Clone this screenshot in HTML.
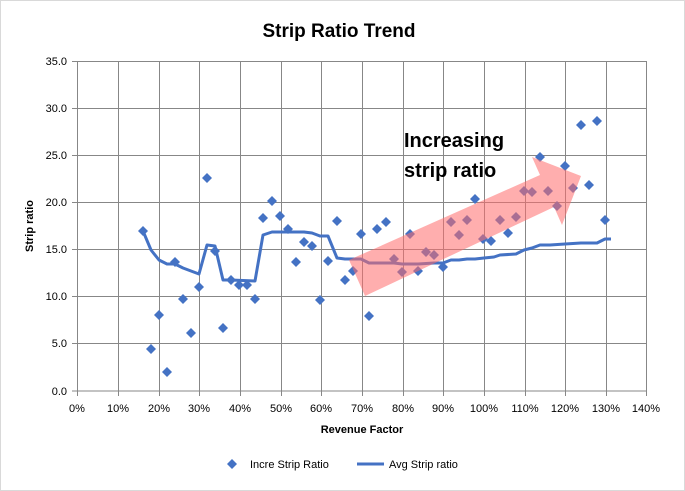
<!DOCTYPE html>
<html><head><style>body{margin:0;background:#fff}svg{display:block}</style></head><body>
<svg width="685" height="491" viewBox="0 0 685 491" xmlns="http://www.w3.org/2000/svg" font-family="Liberation Sans, sans-serif">
<defs><path id="d" d="M0,-5 l5,5 l-5,5 l-5,-5z" fill="#4472C4"/></defs>
<rect x="0.5" y="0.5" width="684" height="490" fill="#fff" stroke="#d9d9d9"/>
<text x="339" y="37" text-anchor="middle" font-size="19" font-weight="bold" fill="#000">Strip Ratio Trend</text>
<g stroke="#878787" stroke-width="1">
<line x1="77" y1="61.5" x2="646.5" y2="61.5"/><line x1="77" y1="108.5" x2="646.5" y2="108.5"/><line x1="77" y1="155.5" x2="646.5" y2="155.5"/><line x1="77" y1="202.5" x2="646.5" y2="202.5"/><line x1="77" y1="249.5" x2="646.5" y2="249.5"/><line x1="77" y1="296.5" x2="646.5" y2="296.5"/><line x1="77" y1="343.5" x2="646.5" y2="343.5"/><line x1="72" y1="391" x2="646.5" y2="391"/>
<line x1="77.5" y1="61" x2="77.5" y2="396"/><line x1="118.5" y1="61" x2="118.5" y2="396"/><line x1="159.5" y1="61" x2="159.5" y2="396"/><line x1="199.5" y1="61" x2="199.5" y2="396"/><line x1="240.5" y1="61" x2="240.5" y2="396"/><line x1="281.5" y1="61" x2="281.5" y2="396"/><line x1="321.5" y1="61" x2="321.5" y2="396"/><line x1="362.5" y1="61" x2="362.5" y2="396"/><line x1="403.5" y1="61" x2="403.5" y2="396"/><line x1="443.5" y1="61" x2="443.5" y2="396"/><line x1="484.5" y1="61" x2="484.5" y2="396"/><line x1="525.5" y1="61" x2="525.5" y2="396"/><line x1="565.5" y1="61" x2="565.5" y2="396"/><line x1="606.5" y1="61" x2="606.5" y2="396"/><line x1="646.5" y1="61" x2="646.5" y2="396"/>
<line x1="72" y1="61.5" x2="77" y2="61.5"/><line x1="72" y1="108.5" x2="77" y2="108.5"/><line x1="72" y1="155.5" x2="77" y2="155.5"/><line x1="72" y1="202.5" x2="77" y2="202.5"/><line x1="72" y1="249.5" x2="77" y2="249.5"/><line x1="72" y1="296.5" x2="77" y2="296.5"/><line x1="72" y1="343.5" x2="77" y2="343.5"/>
</g>
<g font-size="11" fill="#000" text-anchor="end">
<text x="67" y="65">35.0</text><text x="67" y="112">30.0</text><text x="67" y="159">25.0</text><text x="67" y="206">20.0</text><text x="67" y="253">15.0</text><text x="67" y="300">10.0</text><text x="67" y="347">5.0</text><text x="67" y="395">0.0</text>
</g>
<g font-size="11" fill="#000" text-anchor="middle">
<text x="77" y="412">0%</text><text x="118" y="412">10%</text><text x="159" y="412">20%</text><text x="199" y="412">30%</text><text x="240" y="412">40%</text><text x="281" y="412">50%</text><text x="321" y="412">60%</text><text x="362" y="412">70%</text><text x="403" y="412">80%</text><text x="443" y="412">90%</text><text x="484" y="412">100%</text><text x="525" y="412">110%</text><text x="565" y="412">120%</text><text x="606" y="412">130%</text><text x="646" y="412">140%</text>
</g>
<text x="362" y="433" text-anchor="middle" font-size="11" font-weight="bold">Revenue Factor</text>
<text transform="translate(33,226) rotate(-90)" text-anchor="middle" font-size="11" font-weight="bold">Strip ratio</text>
<polyline fill="none" stroke="#4472C4" stroke-width="3" stroke-linejoin="round" points="143,231 151,250 159,260 167,264 175,264 183,268 191,271 199,274 207,245 215,246 223,280 231,280 255,281 263,235 272,232 280,232 304,232 312,233 320,236 328,236 337,258 345,259 353,259 361,259 369,263 377,263 394,263 402,264 410,264 418,264 434,263 443,263 451,260 459,260 467,259 475,259 484,258 494,257 500,255 516,254 524,250 532,248 540,245 550,245 565,244 581,243 597,243 605,239 611,239"/>
<g>
<use href="#d" x="143" y="231"/><use href="#d" x="151" y="349"/><use href="#d" x="159" y="315"/><use href="#d" x="167" y="372"/><use href="#d" x="175" y="262"/><use href="#d" x="183" y="299"/><use href="#d" x="191" y="333"/><use href="#d" x="199" y="287"/><use href="#d" x="207" y="178"/><use href="#d" x="215" y="251"/><use href="#d" x="223" y="328"/><use href="#d" x="231" y="280"/><use href="#d" x="239" y="285"/><use href="#d" x="247" y="285"/><use href="#d" x="255" y="299"/><use href="#d" x="263" y="218"/><use href="#d" x="272" y="201"/><use href="#d" x="280" y="216"/><use href="#d" x="288" y="229"/><use href="#d" x="296" y="262"/><use href="#d" x="304" y="242"/><use href="#d" x="312" y="246"/><use href="#d" x="320" y="300"/><use href="#d" x="328" y="261"/><use href="#d" x="337" y="221"/><use href="#d" x="345" y="280"/><use href="#d" x="353" y="271"/><use href="#d" x="361" y="234"/><use href="#d" x="369" y="316"/><use href="#d" x="377" y="229"/><use href="#d" x="386" y="222"/><use href="#d" x="394" y="259"/><use href="#d" x="402" y="272"/><use href="#d" x="410" y="234"/><use href="#d" x="418" y="271"/><use href="#d" x="426" y="252"/><use href="#d" x="434" y="255"/><use href="#d" x="443" y="267"/><use href="#d" x="451" y="222"/><use href="#d" x="459" y="235"/><use href="#d" x="467" y="220"/><use href="#d" x="475" y="199"/><use href="#d" x="483" y="239"/><use href="#d" x="491" y="241"/><use href="#d" x="500" y="220"/><use href="#d" x="508" y="233"/><use href="#d" x="516" y="217"/><use href="#d" x="524" y="191"/><use href="#d" x="532" y="192"/><use href="#d" x="540" y="157"/><use href="#d" x="548" y="191"/><use href="#d" x="557" y="206"/><use href="#d" x="565" y="166"/><use href="#d" x="573" y="188"/><use href="#d" x="581" y="125"/><use href="#d" x="589" y="185"/><use href="#d" x="597" y="121"/><use href="#d" x="605" y="220"/>
</g>
<polygon points="349,260 540,175 532,157 581,176 562,225 554,207 365,296" fill="#FF6B6B" fill-opacity="0.55"/>
<text x="404" y="147" font-size="20" font-weight="bold">Increasing</text>
<text x="404" y="177" font-size="20" font-weight="bold">strip ratio</text>
<path d="M232,459 l5,5 l-5,5 l-5,-5z" fill="#4472C4"/>
<text x="250" y="468" font-size="11">Incre Strip Ratio</text>
<line x1="357" y1="464" x2="384" y2="464" stroke="#4472C4" stroke-width="3"/>
<text x="389" y="468" font-size="11">Avg Strip ratio</text>
</svg>
</body></html>
